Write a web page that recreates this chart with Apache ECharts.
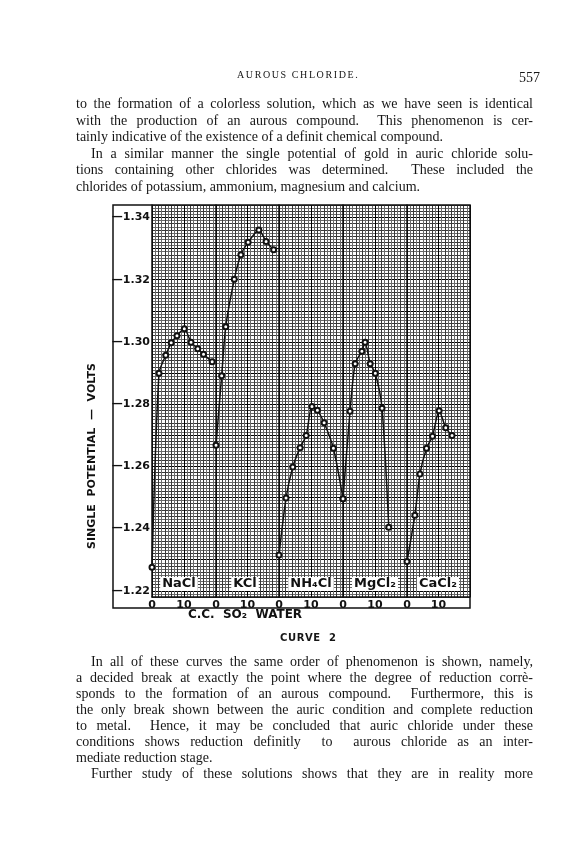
<!DOCTYPE html>
<html>
<head>
<meta charset="utf-8">
<script src="https://cdn.jsdelivr.net/npm/echarts@6/dist/echarts.min.js"></script>
<style>
    html, body { margin: 0; padding: 0; background: #fff; }
    #page { position: relative; width: 587px; height: 857px; overflow: hidden; background: #fff; }
    #curve2 { position: absolute; left: 0; top: 0; width: 587px; height: 857px; }
    .txt { position: absolute; color: #161616; font-family: 'Liberation Serif', 'DejaVu Serif', serif; white-space: nowrap; }
    .ln { position: absolute; left: 76px; width: 457px; height: 17px; line-height: 17px; color: #161616;
          font-family: 'Liberation Serif', 'DejaVu Serif', serif; font-size: 14px;
          text-align: justify; text-align-last: justify; overflow: hidden; }
    .ln.ind { left: 91px; width: 442px; }
    .ln.end { text-align-last: left; }
</style>
</head>
<body>
<div id="page">
    <div id="curve2"></div>

    <div class="txt" style="left:237px; top:69px; font-size:10px; letter-spacing:1.6px;">AUROUS CHLORIDE.</div>
    <div class="txt" style="left:519px; top:70px; font-size:14px;">557</div>

    <div class="ln" style="top:95px;">to the formation of a colorless solution, which as we have seen is identical</div>
    <div class="ln" style="top:111.6px;">with the production of an aurous compound.&nbsp; This phenomenon is cer-</div>
    <div class="ln end" style="top:128.2px;">tainly indicative of the existence of a definit chemical compound.</div>
    <div class="ln ind" style="top:144.8px;">In a similar manner the single potential of gold in auric chloride solu-</div>
    <div class="ln" style="top:161.4px;">tions containing other chlorides was determined.&nbsp; These included the</div>
    <div class="ln end" style="top:178px;">chlorides of potassium, ammonium, magnesium and calcium.</div>

    <div class="txt" style="left:280px; top:632px; font-size:10px; font-weight:bold; font-family:'DejaVu Sans', sans-serif; letter-spacing:0.6px;">CURVE&nbsp;&nbsp;2</div>

    <div class="ln ind" style="top:652.5px;">In all of these curves the same order of phenomenon is shown, namely,</div>
    <div class="ln" style="top:668.5px;">a decided break at exactly the point where the degree of reduction corrè-</div>
    <div class="ln" style="top:684.5px;">sponds to the formation of an aurous compound.&nbsp; Furthermore, this is</div>
    <div class="ln" style="top:700.5px;">the only break shown between the auric condition and complete reduction</div>
    <div class="ln" style="top:716.5px;">to metal.&nbsp; Hence, it may be concluded that auric chloride under these</div>
    <div class="ln" style="top:732.5px;">conditions shows reduction definitly&nbsp; to&nbsp; aurous chloride as an inter-</div>
    <div class="ln end" style="top:748.5px;">mediate reduction stage.</div>
    <div class="ln ind" style="top:764.5px;">Further study of these solutions shows that they are in reality more</div>
</div>

<script>
const panelNames = ['NaCl', 'KCl', 'NH₄Cl', 'MgCl₂', 'CaCl₂']

// c.c. SO2 water added / single potential (volts)
const naclCC = [0, 2.2, 4.3, 6.0, 7.8, 10.1, 12.2, 14.3, 16.1, 18.8]
const naclVolts = [-1.2276, -1.2899, -1.2957, -1.2997, -1.302, -1.3042, -1.2999, -1.2978, -1.296, -1.2936]
const kclCC = [0, 1.8, 3.1, 5.8, 7.9, 10.2, 13.6, 15.9, 18.3]
const kclVolts = [-1.2668, -1.2891, -1.3049, -1.3201, -1.328, -1.332, -1.336, -1.3323, -1.3296]
const nh4clCC = [0, 2.2, 4.3, 6.6, 8.5, 10.3, 12.0, 14.1, 17.0, 20.0]
const nh4clVolts = [-1.2315, -1.2498, -1.2598, -1.266, -1.2699, -1.2792, -1.278, -1.274, -1.2658, -1.2496]
const mgcl2CC = [0, 2.2, 3.8, 5.9, 6.9, 8.5, 10.1, 12.2, 14.3]
const mgcl2Volts = [-1.2496, -1.2777, -1.293, -1.297, -1.2999, -1.293, -1.2899, -1.2787, -1.2404]
const cacl2CC = [0, 2.5, 4.1, 6.2, 8.1, 10.2, 12.3, 14.3]
const cacl2Volts = [-1.2294, -1.2443, -1.2575, -1.2658, -1.2697, -1.2779, -1.2724, -1.2699]

const ccTicks = [0, 10]
const voltTicks = [-1.34, -1.32, -1.30, -1.28, -1.26, -1.24, -1.22]

const panelCC = [naclCC, kclCC, nh4clCC, mgcl2CC, cacl2CC]
const panelVolts = [naclVolts, kclVolts, nh4clVolts, mgcl2Volts, cacl2Volts]

const chartDom = document.querySelector('#curve2')

function paintCurve2(dom) {
    let myChart = echarts.init(dom)
    const panelLeft = [152, 216, 279, 343, 407]
    const panelWidth = [64, 63, 64, 64, 63]
    const labelCenter = [179, 245, 311, 375, 438]
    const ink = '#111'
    const grid = [],
        xAxis = [],
        yAxis = [],
        series = [],
        graphic = []

    panelNames.forEach((name, i) => {
        grid.push({ left: panelLeft[i], width: panelWidth[i], top: 205, height: 392 })
        xAxis.push({
            gridIndex: i,
            type: 'value',
            min: 0,
            max: 20,
            interval: 2,
            axisLine: { show: true, lineStyle: { color: ink, width: 1.5 } },
            axisTick: { show: false },
            minorTick: { show: false, splitNumber: 2 },
            axisLabel: {
                margin: 3,
                color: ink,
                fontFamily: 'DejaVu Sans',
                fontWeight: 'bold',
                fontSize: 11,
                formatter: (v) => (ccTicks.includes(v) ? String(v) : ''),
            },
            splitLine: { show: true, lineStyle: { color: ['#000', '#3a3a3a', '#3a3a3a', '#3a3a3a', '#3a3a3a'], width: 1 } },
            minorSplitLine: { show: true, lineStyle: { color: '#6a6a6a', width: 1 } },
        })
        yAxis.push({
            gridIndex: i,
            type: 'value',
            inverse: true,
            min: -1.344,
            max: -1.218,
            interval: 0.002,
            axisLine: { show: true, lineStyle: { color: ink, width: 1.5 } },
            axisTick: { show: false },
            minorTick: { show: false, splitNumber: 2 },
            axisLabel: {
                show: i === 0,
                margin: 2,
                color: ink,
                fontFamily: 'DejaVu Sans',
                fontWeight: 'bold',
                fontSize: 11,
                formatter: (v) => {
                    const hit = voltTicks.find((t) => Math.abs(t - v) < 1e-6)
                    return hit !== undefined ? '—' + Math.abs(hit).toFixed(2) : ''
                },
            },
            splitLine: { show: true, lineStyle: { color: ['#3a3a3a', '#3a3a3a', '#000', '#3a3a3a', '#3a3a3a'], width: 1 } },
            minorSplitLine: { show: true, lineStyle: { color: '#6a6a6a', width: 1 } },
        })
        series.push({
            name: name,
            type: 'line',
            xAxisIndex: i,
            yAxisIndex: i,
            smooth: 0.25,
            symbol: 'emptyCircle',
            symbolSize: 5,
            itemStyle: { color: ink, borderWidth: 1.2 },
            lineStyle: { color: ink, width: 1.5 },
            data: panelCC[i].map((c, k) => [c, panelVolts[i][k]]),
        })
        // salt name printed in a white box at the foot of each panel
        graphic.push({
            type: 'text',
            x: labelCenter[i],
            y: 584,
            z: 20,
            style: {
                text: name,
                align: 'center',
                verticalAlign: 'middle',
                fill: ink,
                font: 'bold 13px "DejaVu Sans"',
                backgroundColor: '#fff',
                padding: [1, 2, 0, 2],
            },
        })
    })

    graphic.push(
        {
            type: 'rect',
            shape: { x: 113, y: 205, width: 357, height: 403 },
            style: { fill: 'none', stroke: ink, lineWidth: 1.5 },
            z: 10,
        },
        {
            type: 'text',
            x: 92,
            y: 456,
            rotation: Math.PI / 2,
            style: {
                text: 'SINGLE  POTENTIAL  —  VOLTS',
                align: 'center',
                verticalAlign: 'middle',
                fill: ink,
                font: 'bold 11px "DejaVu Sans"',
            },
        },
        {
            type: 'text',
            x: 245,
            y: 615,
            style: {
                text: 'C.C.  SO₂  WATER',
                align: 'center',
                verticalAlign: 'middle',
                fill: ink,
                font: 'bold 12px "DejaVu Sans"',
            },
        }
    )

    let option = {
        backgroundColor: '#fff',
        animation: false,
        grid: grid,
        xAxis: xAxis,
        yAxis: yAxis,
        series: series,
        graphic: graphic,
    }
    myChart.setOption(option)
}

paintCurve2(chartDom)
</script>
</body>
</html>
